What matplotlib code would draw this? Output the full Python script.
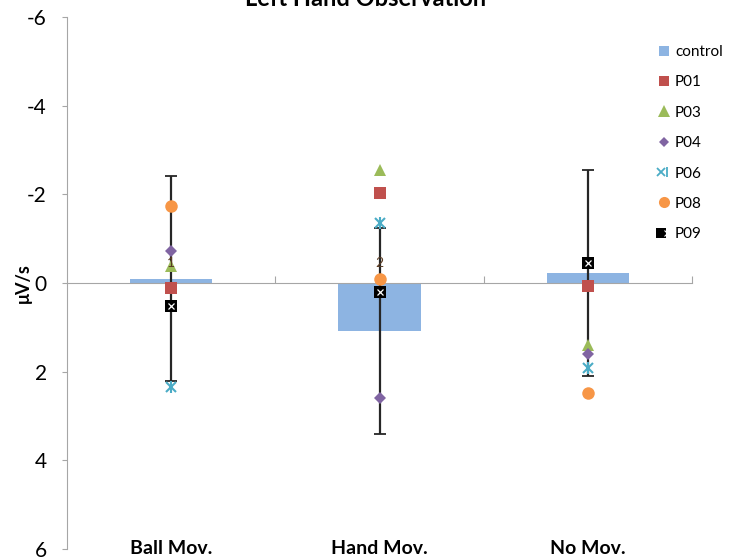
import matplotlib
matplotlib.use("Agg")
import matplotlib.pyplot as plt
from matplotlib.lines import Line2D
from matplotlib.legend_handler import HandlerTuple

plt.rcParams["font.family"] = ["Lato", "DejaVu Sans"]
plt.rcParams["axes.unicode_minus"] = False

conditions = ["Ball Mov.", "Hand Mov.", "No Mov."]
control_mean = [-0.10, 1.08, -0.22]
control_err = [2.32, 2.33, 2.32]
bar_labels = ["1", "2", ""]

participants = ["P01", "P03", "P04", "P06", "P08", "P09"]
p01 = [0.12, -2.04, 0.07]
p03 = [-0.38, -2.56, 1.40]
p04 = [-0.73, 2.60, 1.61]
p06 = [2.34, -1.36, 1.92]
p08 = [-1.74, -0.10, 2.49]
p09 = [0.53, 0.20, -0.46]

colors = {
    "control": "#8DB4E2",
    "P01": "#C0504D",
    "P03": "#9BBB59",
    "P04": "#8064A2",
    "P06": "#4BACC6",
    "P08": "#F79646",
    "P09": "#000000",
}

fig = plt.figure(figsize=(7.29, 5.59), dpi=100)
ax = fig.add_axes([67 / 729, 1 - 549 / 559, 625 / 729, 532 / 559])

x = [i + 0.5 for i in range(len(conditions))]

ax.bar(x, control_mean, width=0.395, color=colors["control"], zorder=2)
ax.errorbar(x, control_mean, yerr=control_err, fmt="none", ecolor="#262626",
            elinewidth=1.6, capsize=4, capthick=1.3, zorder=3)

ms = 8
ax.plot(x, p01, "s", color=colors["P01"], ms=ms, mew=0, zorder=4)
ax.plot(x, p03, "^", color=colors["P03"], ms=ms + 1, mew=0, zorder=4)
ax.plot(x, p04, "D", color=colors["P04"], ms=6.5, mew=0, zorder=4)
ax.plot(x, p06, "x", color=colors["P06"], ms=7, mew=1.5, zorder=4)
ax.plot(x, p06, "|", color=colors["P06"], ms=8, mew=1.5, zorder=4)
ax.plot(x, p08, "o", color=colors["P08"], ms=ms + 1, mew=0, zorder=4)
ax.plot(x, p09, "s", color=colors["P09"], ms=ms, mew=0, zorder=5)
ax.plot(x, p09, "x", color="white", ms=4.5, mew=0.9, zorder=6)

for xi, lab in zip(x, bar_labels):
    if lab:
        ax.text(xi, -0.45, lab, ha="center", va="center", fontsize=10,
                color="#5a3b22", zorder=7)

# reversed value axis, -6 on top
ax.set_ylim(6, -6)
ax.set_xlim(0, 3)
ax.set_yticks([-6, -4, -2, 0, 2, 4, 6])
ax.tick_params(axis="y", direction="out", length=3.5, color="#a6a6a6",
               labelsize=15, pad=11)

# category axis drawn along zero, ticks at the category boundaries
ax.spines["bottom"].set_position(("data", 0))
ax.spines["bottom"].set_color("#a6a6a6")
ax.spines["left"].set_color("#a6a6a6")
ax.spines["top"].set_visible(False)
ax.spines["right"].set_visible(False)
ax.set_xticks([1, 2, 3])
ax.set_xticklabels([])
ax.tick_params(axis="x", direction="in", length=5, color="#a6a6a6")

for xi, name in zip(x, conditions):
    ax.text(xi, 6, name, ha="center", va="center", fontsize=14,
            fontweight="bold", color="black")

ax.set_ylabel("\u03bcV/s", fontsize=13, fontweight="bold")
ax.yaxis.set_label_coords(-0.056, 0.5)

fig.text(366 / 729, 1 - 6 / 559, "Left Hand Observation", ha="center",
         va="baseline", fontsize=17, fontweight="bold")

handles = [
    Line2D([], [], ls="none", marker="s", color=colors["control"], ms=7, mew=0),
    Line2D([], [], ls="none", marker="s", color=colors["P01"], ms=7, mew=0),
    Line2D([], [], ls="none", marker="^", color=colors["P03"], ms=8, mew=0),
    Line2D([], [], ls="none", marker="D", color=colors["P04"], ms=5.5, mew=0),
    (Line2D([], [], ls="none", marker="x", color=colors["P06"], ms=6, mew=1.3),
     Line2D([], [], ls="none", marker="|", color=colors["P06"], ms=7, mew=1.3)),
    Line2D([], [], ls="none", marker="o", color=colors["P08"], ms=8, mew=0),
    (Line2D([], [], ls="none", marker="s", color=colors["P09"], ms=7, mew=0),
     Line2D([], [], ls="none", marker="x", color="white", ms=4, mew=0.8)),
]
labels = ["control"] + participants
fig.legend(handles, labels, loc="upper left", bbox_to_anchor=(652 / 729, 1 - 39 / 559),
           frameon=False, fontsize=11, handlelength=0.8, handletextpad=0.3,
           labelspacing=1.07, borderaxespad=0,
           handler_map={tuple: HandlerTuple(ndivide=None, pad=0)})

fig.savefig("out.png", dpi=100)
